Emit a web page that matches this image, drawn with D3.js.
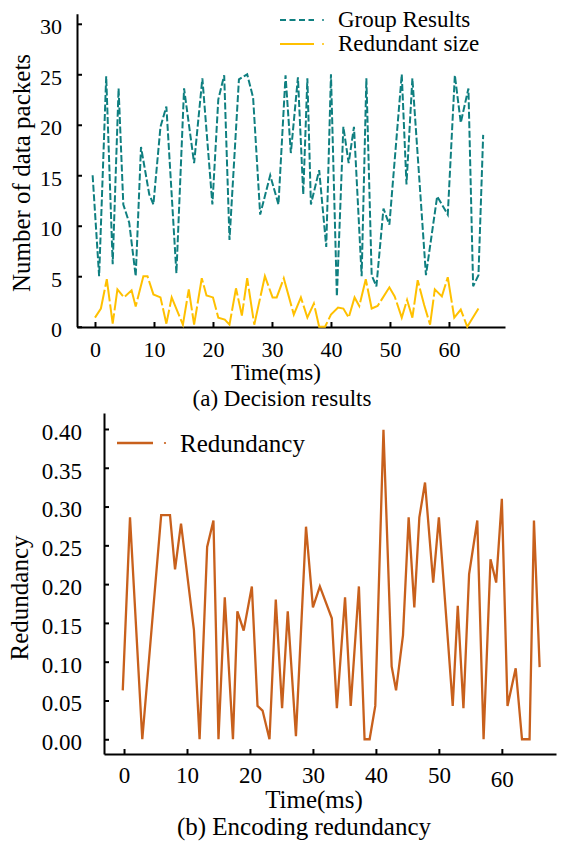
<!DOCTYPE html>
<html lang="en">
<head>
<meta charset="utf-8">
<title>Decision results and encoding redundancy</title>
<script src="https://cdn.jsdelivr.net/npm/d3@7"></script>
<style type="text/css">
body { margin: 0; background: #fff; }
svg  { display: block; }
.axis path, .axis line { stroke: #000; stroke-width: 2; }
</style>
</head>
<body>
<script type="text/javascript">

var serif = "Liberation Serif";

// (a) decision results
var groupTime = [-0.4, 0.7, 1.9, 3, 4, 4.8, 5.8, 6.9, 7.8, 9.2, 9.9, 11.1, 12.1, 13.8, 15.1, 16.8, 18.2, 19.9, 20.9, 21.9,
  22.8, 24.4, 25.8, 26.8, 28, 29.7, 31.1, 32.3, 33.2, 34.4, 35.3, 36, 36.6, 38, 39.2, 40, 41, 42.1, 43, 43.9,
  45.2, 46, 46.9, 47.7, 48.9, 49.9, 52, 52.8, 53.8, 56.1, 58, 59.8, 61, 62, 63.3, 64.1, 65, 65.8];
var groupResults = [15, 5, 24.8, 6.2, 23.6, 12.1, 10.3, 5, 17.8, 13.1, 12.1, 19.8, 21.8, 5.3, 23.6, 16.2, 24.6, 12.1, 22.5, 24.9,
  8.6, 24.5, 25, 22.7, 11.1, 15, 12.1, 24.9, 17.2, 24.7, 13.1, 24.6, 12.1, 15.5, 7.9, 25, 3, 19.8, 16.2, 19.8,
  5, 24.6, 5.1, 4, 11.7, 10.1, 25, 14.1, 24.6, 5.1, 12.9, 11.1, 24.9, 20.2, 23.6, 4, 5.1, 19];

var sizeTime = [0, 1, 2, 3, 3.8, 4.9, 6.2, 6.9, 8.2, 8.9, 9.9, 11.1, 12.1, 13, 14.9, 15.9, 16.8, 18.1, 18.9, 20,
  20.9, 22, 22.8, 23.9, 24.9, 25.8, 27, 28.8, 30.1, 30.8, 32, 33.7, 34.9, 36, 37.1, 38, 39, 40, 41.2, 42.1,
  43, 44, 44.8, 45.9, 46.9, 47.9, 49.9, 50.8, 52, 52.9, 53.8, 54.7, 55.8, 56.8, 57.6, 58.8, 59.8, 60.9, 62, 63.1, 65];
var redundantSize = [0.9, 1.8, 4.7, 0.3, 3.7, 2.9, 3.6, 2.0, 5, 5, 3.2, 2.9, 0.3, 2.9, 0.2, 3.7, 0.2, 4.8, 3.1, 2.9,
  0.9, 0.7, 0.2, 3.8, 1.1, 4.8, 0.2, 5, 2.9, 2.9, 4.8, 1.2, 2.9, 0.9, 2.3, 0, 0, 1.2, 1.9, 1.8,
  0.9, 2.9, 2.05, 4.7, 1.8, 2.05, 3.9, 3.0, 0.9, 2.65, 0.9, 4.6, 2.15, 0.2, 3.7, 3.0, 4.9, 0.9, 1.7, 0, 1.8];

var topYTicks = [0, 5, 10, 15, 20, 25, 30];
var xTicks = [0, 10, 20, 30, 40, 50, 60];

// (b) encoding redundancy
var redTime = [-0.2, 0.95, 2.9, 5.9, 7.3, 8.1, 9.05, 11.1, 12, 13.2, 14.2, 15, 16, 17.3, 18, 19, 20.3, 21.2, 22, 23.1,
  24.1, 25.1, 26, 27.3, 28.9, 30, 31.1, 33, 33.8, 35.1, 36, 37.3, 38.2, 39, 39.9, 41.2, 42.5, 43.2, 44.3, 45.2,
  46.1, 46.9, 47.8, 49.1, 50, 52.2, 53, 53.9, 54.8, 56.1, 57.1, 58.2, 59.1, 60, 60.9, 62.2, 63.2, 64.4, 65.1, 66];
var redundancy = [0.063, 0.286, 0, 0.289, 0.289, 0.219, 0.278, 0.141, 0, 0.248, 0.282, 0, 0.183, 0, 0.165, 0.14, 0.197, 0.043, 0.037, 0,
  0.18, 0.04, 0.165, 0.004, 0.274, 0.17, 0.197, 0.156, 0.04, 0.183, 0.043, 0.197, 0, 0, 0.043, 0.399, 0.094, 0.063, 0.134, 0.286,
  0.17, 0.286, 0.331, 0.202, 0.286, 0.043, 0.172, 0.04, 0.213, 0.282, 0, 0.232, 0.202, 0.31, 0.043, 0.0915, 0, 0, 0.282, 0.093];
var botYTicks = [0, 0.05, 0.10, 0.15, 0.20, 0.25, 0.30, 0.35, 0.40];

var svg = d3.select("body").append("svg")
  .attr("width", 561)
  .attr("height", 842);

// ---------- top panel ----------
var x1 = d3.scaleLinear().domain([-3.05, 69.5]).range([77, 505]);
var y1 = d3.scaleLinear().domain([0, 31]).range([326.7, 13.7]);

svg.append("g").attr("class", "axis")
  .attr("transform", "translate(0,327)")
  .call(d3.axisBottom(x1).tickValues(xTicks).tickSize(-5).tickSizeOuter(0).tickPadding(14))
  .selectAll("text").style("font-size", "22px");

svg.append("g").attr("class", "axis")
  .attr("transform", "translate(77,0)")
  .call(d3.axisLeft(y1).tickValues(topYTicks).tickSize(-5).tickSizeOuter(0).tickPadding(15))
  .selectAll("text").style("font-size", "22px").attr("dy", "0.45em");

var line1 = d3.line()
  .x(function(d) { return x1(d[0]); })
  .y(function(d) { return y1(d[1]); });

svg.append("path")
  .datum(d3.zip(sizeTime, redundantSize))
  .attr("d", line1)
  .attr("fill", "none")
  .attr("stroke", "#ffc000")
  .attr("stroke-width", 2)
  .attr("stroke-dasharray", "30,3");

svg.append("path")
  .datum(d3.zip(groupTime, groupResults))
  .attr("d", line1)
  .attr("fill", "none")
  .attr("stroke", "#0f7f80")
  .attr("stroke-width", 2)
  .attr("stroke-dasharray", "7,2.5");

// legend (a)
var leg1 = [
  { name: "Group Results", color: "#0f7f80", dash: "6,3.5", y: 20 },
  { name: "Redundant size", color: "#ffc000", dash: null, y: 44 }
];
leg1.forEach(function(l) {
  svg.append("line")
    .attr("x1", 280).attr("x2", 314).attr("y1", l.y).attr("y2", l.y)
    .attr("stroke", l.color).attr("stroke-width", 2)
    .attr("stroke-dasharray", l.dash);
  svg.append("circle").attr("cx", 323).attr("cy", l.y).attr("r", 1).attr("fill", l.color);
  svg.append("text")
    .attr("x", 338).attr("y", l.y + 7)
    .style("font-size", "23px")
    .text(l.name);
});

svg.append("text")
  .attr("transform", "translate(30,173) rotate(-90)")
  .attr("text-anchor", "middle")
  .style("font-size", "25px")
  .text("Number of data packets");

svg.append("text")
  .attr("x", 276).attr("y", 380)
  .attr("text-anchor", "middle")
  .style("font-size", "23px")
  .text("Time(ms)");

svg.append("text")
  .attr("x", 282).attr("y", 406)
  .attr("text-anchor", "middle")
  .style("font-size", "23px")
  .text("(a) Decision results");

// ---------- bottom panel ----------
var x2 = d3.scaleLinear().domain([-3.18, 68.6]).range([104, 556]);
var y2 = d3.scaleLinear().domain([-0.019, 0.4206]).range([754, 413]);

svg.append("g").attr("class", "axis")
  .attr("transform", "translate(0,754)")
  .call(d3.axisBottom(x2).tickValues(xTicks).tickSize(-5).tickSizeOuter(0).tickPadding(13))
  .selectAll("text").style("font-size", "23px")
  .attr("dy", function(d) { return d === 60 ? "0.86em" : "0.71em"; });

svg.append("g").attr("class", "axis")
  .attr("transform", "translate(104,0)")
  .call(d3.axisLeft(y2).tickValues(botYTicks).tickSize(-5).tickSizeOuter(0).tickPadding(22).tickFormat(d3.format(".2f")))
  .selectAll("text").style("font-size", "23px").attr("dy", "0.45em");

var line2 = d3.line()
  .x(function(d) { return x2(d[0]); })
  .y(function(d) { return y2(d[1]); });

svg.append("path")
  .datum(d3.zip(redTime, redundancy))
  .attr("d", line2)
  .attr("fill", "none")
  .attr("stroke", "#c8601c")
  .attr("stroke-width", 2.3);

// legend (b)
svg.append("line")
  .attr("x1", 117).attr("x2", 153).attr("y1", 443).attr("y2", 443)
  .attr("stroke", "#c8601c").attr("stroke-width", 2.3);
svg.append("circle").attr("cx", 165).attr("cy", 443).attr("r", 1.1).attr("fill", "#c8601c");
svg.append("text")
  .attr("x", 180).attr("y", 452)
  .style("font-size", "25px")
  .text("Redundancy");

svg.append("text")
  .attr("transform", "translate(28,598) rotate(-90)")
  .attr("text-anchor", "middle")
  .style("font-size", "25px")
  .text("Redundancy");

svg.append("text")
  .attr("x", 314).attr("y", 808)
  .attr("text-anchor", "middle")
  .style("font-size", "25px")
  .text("Time(ms)");

svg.append("text")
  .attr("x", 304).attr("y", 835)
  .attr("text-anchor", "middle")
  .style("font-size", "25px")
  .text("(b) Encoding redundancy");

// every text in Times-like serif, black
svg.selectAll("text")
  .style("font-family", serif)
  .style("fill", "#000");

</script>
</body>
</html>
